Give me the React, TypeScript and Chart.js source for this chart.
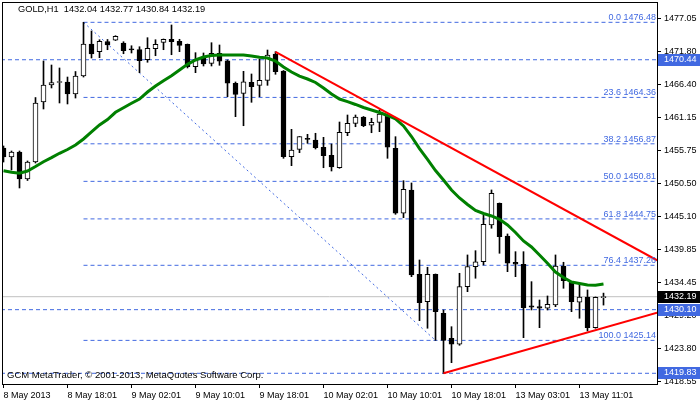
import React, { useEffect, useRef } from 'react';
import { Chart, registerables } from 'chart.js';

Chart.register(...registerables);

// ---------- data ----------
const symbolTitle = 'GOLD,H1';
const lastOHLC = [1432.04, 1432.77, 1430.84, 1432.19];
const copyrightText = 'GCM MetaTrader, © 2001-2013, MetaQuotes Software Corp.';

const opens = [
  1456.19, 1454.74, 1455.55, 1451.19, 1453.93, 1463.62, 1466.36, 1466.77, 1466.85, 1464.91,
  1467.81, 1472.98, 1471.74, 1473.38, 1473.58, 1473.14, 1472.09, 1472.06, 1470.45, 1472.22,
  1473.25, 1473.74, 1473.42, 1472.93, 1469.32, 1470.67, 1469.86, 1471.48, 1470.28, 1466.64,
  1465.02, 1466.80, 1466.31, 1467.12, 1471.37, 1468.62, 1454.79, 1455.98, 1457.61, 1457.48,
  1456.31, 1455.02, 1453.01, 1458.66, 1460.18, 1461.20, 1459.86, 1460.34, 1461.52, 1456.15,
  1445.66, 1449.42, 1435.81, 1431.39, 1435.81, 1429.52, 1425.48, 1424.51, 1433.81, 1437.04,
  1437.84, 1443.77, 1447.27, 1441.99, 1437.75, 1437.43, 1430.70, 1430.61, 1430.32, 1430.86,
  1437.15, 1434.62, 1431.29, 1432.15, 1427.19, 1432.04,
];
const highs = [
  1456.52, 1455.71, 1455.71, 1454.10, 1464.34, 1470.24, 1469.59, 1469.11, 1467.65, 1468.54,
  1476.48, 1475.08, 1473.67, 1473.71, 1474.32, 1473.35, 1472.70, 1472.54, 1474.00, 1473.67,
  1473.79, 1476.05, 1473.74, 1472.98, 1471.58, 1471.53, 1473.19, 1472.82, 1470.40, 1466.85,
  1468.57, 1468.14, 1470.56, 1472.01, 1471.74, 1468.70, 1459.21, 1458.05, 1458.40, 1458.57,
  1457.92, 1456.84, 1460.39, 1461.52, 1461.52, 1461.28, 1460.99, 1462.33, 1461.68, 1458.02,
  1450.92, 1450.55, 1438.12, 1436.94, 1435.86, 1430.05, 1427.35, 1435.97, 1438.93, 1439.62,
  1445.38, 1449.42, 1447.32, 1442.32, 1439.46, 1439.46, 1434.62, 1431.66, 1432.31, 1438.93,
  1437.75, 1434.65, 1434.25, 1433.28, 1432.15, 1432.77,
];
const lows = [
  1453.93, 1452.64, 1449.74, 1450.95, 1453.77, 1462.49, 1465.88, 1463.46, 1463.30, 1464.26,
  1467.65, 1470.72, 1470.77, 1472.06, 1473.54, 1471.41, 1471.53, 1468.35, 1470.03, 1471.09,
  1472.06, 1471.25, 1471.74, 1469.11, 1468.35, 1469.43, 1469.43, 1469.54, 1464.47, 1461.25,
  1459.79, 1463.57, 1464.47, 1466.31, 1468.09, 1454.53, 1453.34, 1455.44, 1456.95, 1456.03,
  1453.01, 1452.48, 1452.92, 1458.18, 1459.63, 1459.63, 1458.66, 1458.83, 1454.53, 1445.49,
  1444.95, 1435.42, 1428.32, 1427.10, 1425.14, 1419.83, 1421.54, 1424.35, 1433.00, 1435.17,
  1437.31, 1443.24, 1439.20, 1436.23, 1435.42, 1425.58, 1430.05, 1427.19, 1430.05, 1430.58,
  1433.55, 1429.77, 1428.71, 1426.66, 1427.10, 1430.84,
];
const closes = [
  1454.74, 1455.55, 1451.19, 1453.93, 1463.46, 1466.36, 1466.77, 1466.85, 1464.91, 1467.81,
  1472.98, 1471.37, 1473.42, 1472.82, 1474.22, 1471.90, 1472.04, 1470.28, 1472.28, 1472.93,
  1473.74, 1473.35, 1472.77, 1469.32, 1470.45, 1469.75, 1471.48, 1470.19, 1466.64, 1464.86,
  1466.89, 1466.09, 1467.12, 1471.20, 1468.51, 1454.79, 1455.87, 1458.02, 1457.58, 1456.24,
  1454.95, 1453.13, 1458.73, 1460.18, 1461.20, 1459.79, 1460.34, 1461.68, 1456.31, 1445.66,
  1449.53, 1435.70, 1431.23, 1435.81, 1429.77, 1425.14, 1424.51, 1433.81, 1437.04, 1437.84,
  1443.88, 1448.88, 1441.88, 1437.59, 1437.43, 1430.42, 1430.49, 1430.32, 1430.97, 1437.15,
  1434.78, 1431.39, 1432.15, 1427.19, 1432.10, 1432.19,
];
const movingAverage = [
  1452.53, 1452.27, 1452.11, 1452.48, 1453.21, 1453.98, 1454.63, 1455.34, 1455.95, 1456.68,
  1457.65, 1458.78, 1459.91, 1460.79, 1461.96, 1462.70, 1463.41, 1464.10, 1465.23, 1466.20,
  1467.06, 1467.86, 1468.78, 1469.70, 1470.40, 1470.88, 1471.12, 1471.20, 1471.20, 1471.20,
  1471.20, 1471.04, 1470.83, 1470.72, 1470.24, 1469.27, 1468.46, 1467.81, 1467.33, 1466.77,
  1465.88, 1464.91, 1464.10, 1463.67, 1463.22, 1462.73, 1462.33, 1461.92, 1461.44, 1460.88,
  1459.75, 1458.05, 1456.11, 1454.34, 1452.56, 1451.03, 1449.42, 1448.13, 1447.08, 1446.11,
  1445.62, 1445.22, 1444.69, 1443.77, 1442.56, 1441.19, 1440.22, 1438.93, 1437.59, 1436.18,
  1435.29, 1434.57, 1434.33, 1434.08, 1434.04, 1434.25,
];

const timeLabelIndex = [0, 8, 16, 24, 32, 40, 48, 56, 64, 72];
const timeLabels = [
  '8 May 2013', '8 May 18:01', '9 May 02:01', '9 May 10:01', '9 May 18:01',
  '10 May 02:01', '10 May 10:01', '10 May 18:01', '13 May 03:01', '13 May 11:01',
];
const priceTicks = [
  1477.05, 1471.80, 1466.40, 1461.15, 1455.75, 1450.50,
  1445.10, 1439.85, 1434.45, 1429.20, 1423.80, 1418.55,
];

const fibLevels = [0.0, 23.6, 38.2, 50.0, 61.8, 76.4, 100.0];
const fibPrices = [1476.48, 1464.36, 1456.87, 1450.81, 1444.75, 1437.26, 1425.14];
const fibFromBar = 10;
const fibToBar = 54;

const horizontalLines = [1470.44, 1430.10, 1419.83];
const bidPrice = 1432.19;

const upperTrend = [{ x: 34, y: 1471.69 }, { x: 81.7, y: 1438.07 }];
const lowerTrend = [{ x: 55, y: 1419.83 }, { x: 81.7, y: 1429.6 }];

const X_MIN = -0.1875;
const X_MAX = 81.6875;
const Y_MIN = 1418.1;
const Y_MAX = 1479.76;

const FONT = "'Liberation Sans', Arial, sans-serif";
const BLUE = '#4169E1';

export default function App() {
  const canvasRef = useRef<HTMLCanvasElement | null>(null);

  useEffect(() => {
    document.body.style.margin = '0';
    const canvas = canvasRef.current;
    if (!canvas) return;

    const idx = opens.map((_, i) => i);
    const wickData = idx.map((i) => ({ x: i, y: [lows[i], highs[i]] }));
    const bodyData = idx.map((i) => ({ x: i, y: [opens[i], closes[i]] }));
    const bodyFill = idx.map((i) => (closes[i] > opens[i] ? '#ffffff' : '#000000'));
    const maData = idx.map((i) => ({ x: i, y: movingAverage[i] }));

    const dashed = { borderColor: BLUE, borderWidth: 1, borderDash: [4, 3], pointRadius: 0, fill: false };

    const fibSets = fibPrices.map((p) => ({
      type: 'line' as const,
      data: [{ x: fibFromBar, y: p }, { x: X_MAX + 1, y: p }],
      ...dashed,
      order: 6,
    }));
    const hSets = horizontalLines.map((p) => ({
      type: 'line' as const,
      data: [{ x: X_MIN - 1, y: p }, { x: X_MAX + 1, y: p }],
      ...dashed,
      order: 6,
    }));

    const zeroPad = (s: any) => {
      s.paddingTop = 0;
      s.paddingBottom = 0;
      s.paddingLeft = 0;
      s.paddingRight = 0;
    };

    const overlay = {
      id: 'mtOverlay',
      afterDraw(chart: any) {
        const { ctx, chartArea: a, scales } = chart;
        const ys = scales.y;
        ctx.save();
        // frame
        ctx.strokeStyle = '#000';
        ctx.lineWidth = 1;
        ctx.strokeRect(a.left + 0.5, a.top + 0.5, a.right - a.left, a.bottom - a.top);

        ctx.font = `9px ${FONT}`;
        // fib labels
        ctx.fillStyle = BLUE;
        ctx.textAlign = 'right';
        ctx.textBaseline = 'bottom';
        fibPrices.forEach((p, i) => {
          const yy = ys.getPixelForValue(p);
          ctx.fillText(`${fibLevels[i].toFixed(1)} ${p.toFixed(2)}`, a.right - 1, yy);
        });

        // title and copyright
        ctx.fillStyle = '#000';
        ctx.textAlign = 'left';
        ctx.textBaseline = 'top';
        ctx.font = `9.25px ${FONT}`;
        ctx.fillText(`${symbolTitle}  ${lastOHLC.map((v) => v.toFixed(2)).join(' ')}`, 18, 5);
        ctx.font = `9.5px ${FONT}`;
        ctx.fillText(copyrightText, 7, 371);

        // price boxes on axis
        ctx.font = `9px ${FONT}`;
        const boxes: [number, string][] = [
          [horizontalLines[0], BLUE],
          [bidPrice, '#000000'],
          [horizontalLines[1], BLUE],
          [horizontalLines[2], BLUE],
        ];
        ctx.textBaseline = 'middle';
        boxes.forEach(([p, bg]) => {
          const yy = Math.round(ys.getPixelForValue(p));
          ctx.fillStyle = bg;
          ctx.fillRect(a.right + 1, yy - 6, 700 - a.right - 1, 12);
          ctx.fillStyle = '#ffffff';
          ctx.fillText(p.toFixed(2), a.right + 7, yy);
        });
        ctx.restore();
      },
    };

    const chart = new Chart(canvas, {
      type: 'bar',
      data: {
        datasets: [
          {
            type: 'line',
            data: upperTrend,
            borderColor: '#ff0000',
            borderWidth: 2,
            pointRadius: 0,
            order: 0,
          } as any,
          {
            type: 'line',
            data: lowerTrend,
            borderColor: '#ff0000',
            borderWidth: 2,
            pointRadius: 0,
            order: 0,
          } as any,
          {
            type: 'line',
            data: maData,
            borderColor: '#008000',
            borderWidth: 3,
            pointRadius: 0,
            tension: 0,
            order: 1,
          } as any,
          {
            type: 'bar',
            data: bodyData,
            backgroundColor: bodyFill,
            borderColor: '#000000',
            borderWidth: 1,
            borderSkipped: false,
            barThickness: 5,
            minBarLength: 1,
            grouped: false,
            order: 2,
          } as any,
          {
            type: 'bar',
            data: wickData,
            backgroundColor: '#000000',
            borderWidth: 0,
            barThickness: 1,
            grouped: false,
            order: 3,
          } as any,
          {
            type: 'line',
            data: [{ x: fibFromBar, y: fibPrices[0] }, { x: fibToBar, y: fibPrices[fibPrices.length - 1] }],
            borderColor: BLUE,
            borderWidth: 1,
            borderDash: [2, 3],
            pointRadius: 0,
            order: 5,
          } as any,
          ...(fibSets as any[]),
          ...(hSets as any[]),
          {
            type: 'line',
            data: [{ x: X_MIN - 1, y: bidPrice }, { x: X_MAX + 1, y: bidPrice }],
            borderColor: '#c0c0c0',
            borderWidth: 1,
            pointRadius: 0,
            order: 7,
          } as any,
        ],
      },
      options: {
        animation: false,
        responsive: false,
        maintainAspectRatio: false,
        events: [],
        layout: { autoPadding: false, padding: { left: 2, top: 2, right: 0, bottom: 0 } },
        plugins: {
          legend: { display: false },
          tooltip: { enabled: false },
        },
        scales: {
          x: {
            type: 'linear',
            min: X_MIN,
            max: X_MAX,
            offset: false,
            afterBuildTicks: (s: any) => {
              s.ticks = timeLabelIndex.map((v) => ({ value: v }));
            },
            afterFit: (s: any) => {
              s.height = 18;
              zeroPad(s);
            },
            grid: {
              display: true,
              drawOnChartArea: false,
              drawTicks: true,
              tickLength: 4,
              color: '#000000',
              offset: false,
            },
            border: { display: true, color: '#000000' },
            ticks: {
              autoSkip: false,
              maxRotation: 0,
              minRotation: 0,
              align: 'start',
              padding: 2,
              color: '#000000',
              font: { family: FONT, size: 9 },
              callback: (v: any) => {
                const k = timeLabelIndex.indexOf(Number(v));
                return k >= 0 ? timeLabels[k] : '';
              },
            },
          },
          y: {
            type: 'linear',
            position: 'right',
            min: Y_MIN,
            max: Y_MAX,
            afterBuildTicks: (s: any) => {
              s.ticks = priceTicks.map((v) => ({ value: v }));
            },
            afterFit: (s: any) => {
              s.width = 43;
              zeroPad(s);
            },
            grid: {
              display: true,
              drawOnChartArea: false,
              drawTicks: true,
              tickLength: 4,
              color: '#000000',
            },
            border: { display: true, color: '#000000' },
            ticks: {
              padding: 3,
              color: '#000000',
              font: { family: FONT, size: 9 },
              callback: (v: any) => Number(v).toFixed(2),
            },
          },
        },
      } as any,
      plugins: [overlay],
    });

    return () => chart.destroy();
  }, []);

  return (
    <div style={{ position: 'absolute', left: 0, top: 0, width: 700, height: 402, background: '#fff' }}>
      <canvas ref={canvasRef} width={700} height={402} style={{ display: 'block', width: 700, height: 402 }} />
    </div>
  );
}
